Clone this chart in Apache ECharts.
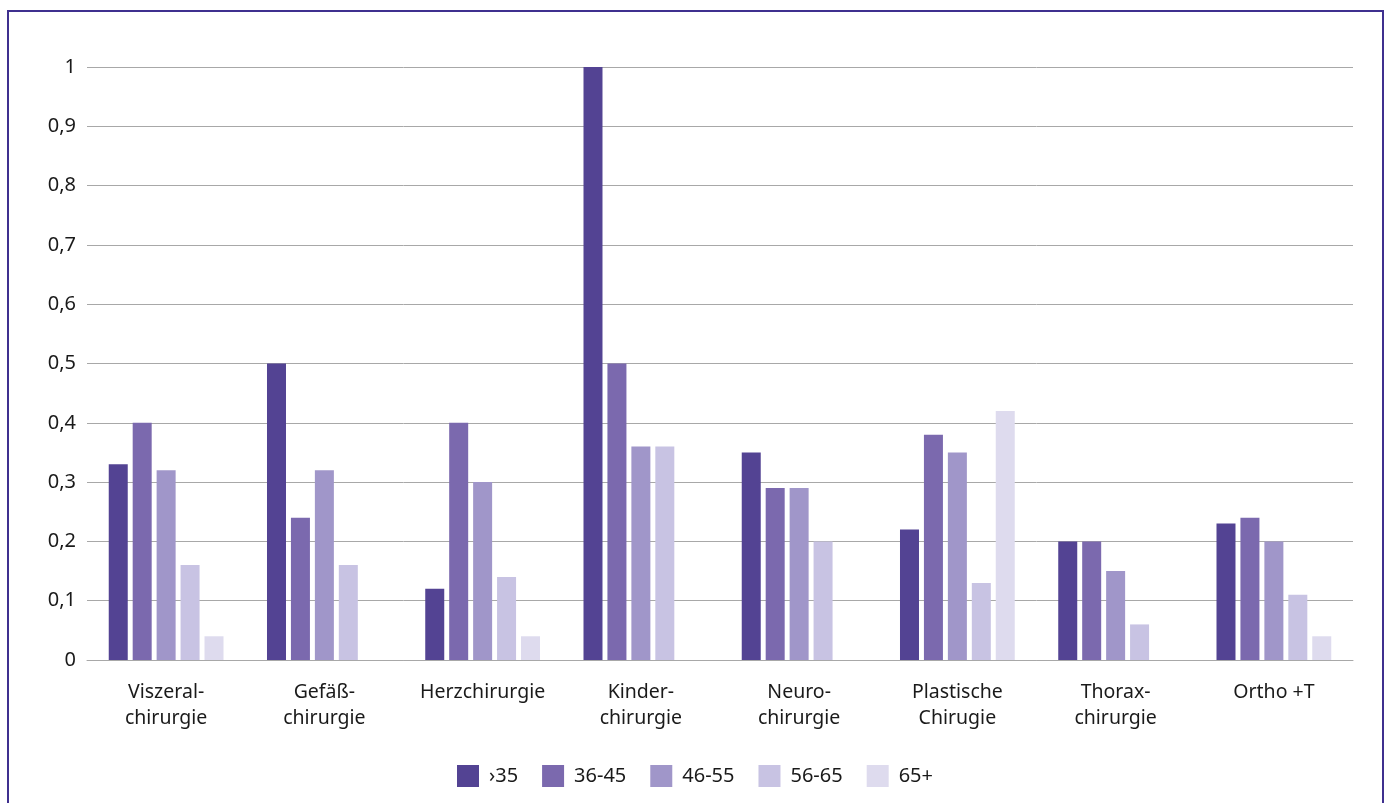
<!DOCTYPE html>
<html>
<head>
<meta charset="utf-8">
<style>
  html, body { margin: 0; padding: 0; background: #fff; }
  #chart { width: 1390px; height: 803px; }
</style>
<script src="https://cdn.jsdelivr.net/npm/echarts@6/dist/echarts.min.js"></script>
</head>
<body>
<div id="chart"></div>
<script>
const categories = ['Viszeral-\nchirurgie', 'Gefäß-\nchirurgie', 'Herzchirurgie', 'Kinder-\nchirurgie',
  'Neuro-\nchirurgie', 'Plastische\nChirugie', 'Thorax-\nchirurgie', 'Ortho +T']
const seriesNames = ['›35', '36-45', '46-55', '56-65', '65+']
const under35 = [0.33, 0.50, 0.12, 1.00, 0.35, 0.22, 0.20, 0.23]
const age36to45 = [0.40, 0.24, 0.40, 0.50, 0.29, 0.38, 0.20, 0.24]
const age46to55 = [0.32, 0.32, 0.30, 0.36, 0.29, 0.35, 0.15, 0.20]
const age56to65 = [0.16, 0.16, 0.14, 0.36, 0.20, 0.13, 0.06, 0.11]
const over65 = [0.04, null, 0.04, null, null, 0.42, null, 0.04]
const colors = ['#534393', '#7b69ae', '#a096c9', '#c8c3e3', '#dedbee']

const chart = echarts.init(document.getElementById('chart'))
const font = 'Noto Sans'

chart.setOption({
  animation: false,
  color: colors,
  textStyle: { fontFamily: font },
  graphic: [{
    type: 'rect',
    shape: { x: 8, y: 11, width: 1375, height: 820 },
    style: { fill: 'none', stroke: '#3f308f', lineWidth: 2 },
    silent: true
  }],
  grid: { left: 87, right: 37, top: 67, bottom: 143 },
  legend: {
    bottom: 11,
    left: 'center',
    itemWidth: 22,
    itemHeight: 22,
    itemGap: 24,
    icon: 'rect',
    textStyle: { fontSize: 20, color: '#1a1a1a', fontFamily: font, padding: [0, 0, 0, 5] },
    data: seriesNames
  },
  xAxis: {
    type: 'category',
    data: categories,
    axisTick: { show: false },
    axisLine: { lineStyle: { color: '#a8a8a8', width: 1 } },
    axisLabel: { fontSize: 19.5, color: '#1a1a1a', lineHeight: 26, margin: 19, interval: 0 }
  },
  yAxis: {
    type: 'value',
    min: 0,
    max: 1,
    interval: 0.1,
    axisLine: { show: false },
    axisTick: { show: false },
    splitLine: { lineStyle: { color: '#a8a8a8', width: 1 } },
    axisLabel: {
      fontSize: 20,
      color: '#1a1a1a',
      margin: 11,
      formatter: v => String(Math.round(v * 10) / 10).replace('.', ',')
    }
  },
  series: [under35, age36to45, age46to55, age56to65, over65].map((d, i) => ({
    name: seriesNames[i],
    type: 'bar',
    data: d,
    barWidth: 19,
    barGap: '26%'
  }))
})
</script>
</body>
</html>
